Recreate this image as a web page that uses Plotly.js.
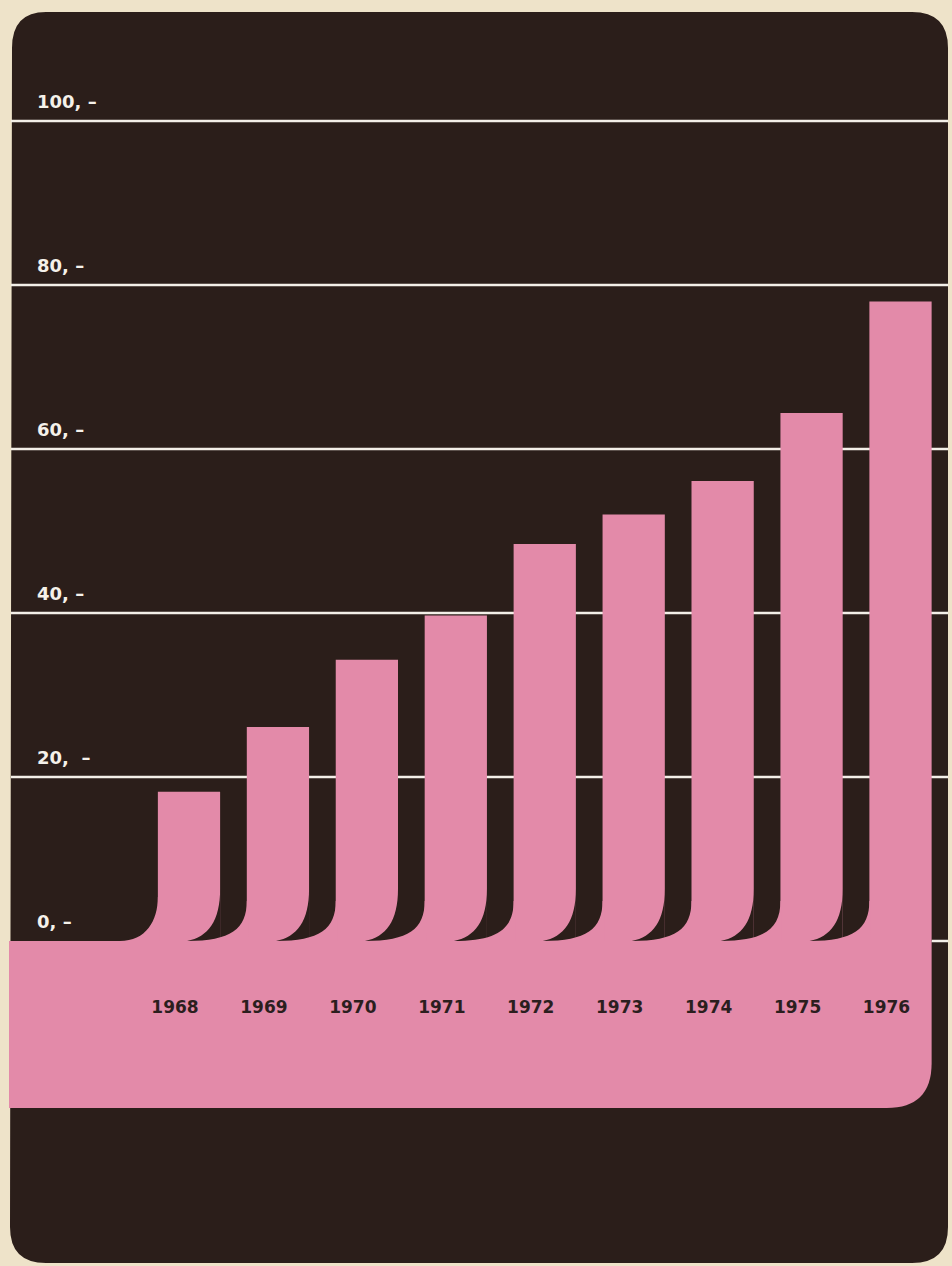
<!DOCTYPE html>
<html>
<head>
<meta charset="utf-8">
<script src="https://cdn.plot.ly/plotly-3.0.1.min.js"></script>
<style>
  html, body { margin: 0; padding: 0; background: #eee3c9; }
  #chart { width: 952px; height: 1266px; }
</style>
</head>
<body>
<div id="chart"></div>
<script>
// ---- data ----
const years = [1968, 1969, 1970, 1971, 1972, 1973, 1974, 1975, 1976];
const values = [18.2, 26.1, 34.3, 39.7, 48.4, 52.0, 56.1, 64.4, 78.0];
const yTickVals = [0, 20, 40, 60, 80, 100];
const yTickText = ['0, –', '20,\u00a0 –', '40, –', '60, –', '80, –', '100, –'];
const xTickText = years.map(String);

// ---- styling ----
const W = 952, H = 1266;
const CREAM = '#eee3c9';
const DARK = '#2b1e1a';
const PINK = '#e38aa9';
const LINE = '#f3efe8';
const barWidth = 0.7;

const xRange = [1965.875, 1976.579];
const yRange = [-39.634, 114.756];
const XS = (xRange[1] - xRange[0]) / W;   // data units per pixel (x)
const YS = (yRange[1] - yRange[0]) / H;   // data units per pixel (y)

const fx = px => px / W;
const fy = py => 1 - py / H;
const pxToDataX = px => xRange[0] + px * XS;

// point in data coords with pixel offsets (dx right, up = upward px) from a data anchor
const P = (xd, yd, dx, up) => `${(xd + dx * XS).toFixed(5)},${(yd + up * YS).toFixed(5)}`;

const shapes = [];

// dark rounded panel
(function () {
  const L = 10, T = 12, R = 948, B = 1263, r = 36;
  const path = `M ${fx(L + r)},${fy(T)} L ${fx(R - r)},${fy(T)} Q ${fx(R)},${fy(T)} ${fx(R)},${fy(T + r)} ` +
    `L ${fx(R)},${fy(B - r)} Q ${fx(R)},${fy(B)} ${fx(R - r)},${fy(B)} ` +
    `L ${fx(L + r)},${fy(B)} Q ${fx(L)},${fy(B)} ${fx(L)},${fy(B - r)} ` +
    `L ${fx(L + 2)},${fy(T + r)} Q ${fx(L + 2)},${fy(T)} ${fx(L + r)},${fy(T)} Z`;
  shapes.push({ type: 'path', xref: 'paper', yref: 'paper', layer: 'below', path: path,
    fillcolor: DARK, line: { width: 0 } });
})();

const lastRight = years[years.length - 1] + barWidth / 2;

// pink base band
(function () {
  const xl = pxToDataX(9);
  const xr = lastRight;
  const bottomUp = -167; // px below baseline
  const r = 45;
  const path = `M ${P(xl, 0, 0, 0)} L ${P(xr, 0, 0, 0)} L ${P(xr, 0, 0, bottomUp + r)} ` +
    `Q ${P(xr, 0, 0, bottomUp)} ${P(xr, 0, -r, bottomUp)} L ${P(xl, 0, 0, bottomUp)} Z`;
  shapes.push({ type: 'path', xref: 'x', yref: 'y', layer: 'below', path: path,
    fillcolor: PINK, line: { width: 0 } });
})();

// grid lines from tick values
yTickVals.forEach(v => {
  if (v === 0) {
    shapes.push({ type: 'line', xref: 'x', yref: 'y', layer: 'below',
      x0: lastRight, x1: pxToDataX(948), y0: v, y1: v, line: { color: LINE, width: 2.5 } });
  } else {
    shapes.push({ type: 'line', xref: 'paper', yref: 'y', layer: 'below',
      x0: fx(11), x1: fx(948), y0: v, y1: v, line: { color: LINE, width: 2.5 } });
  }
});

// curled bar bottoms: dark cut at bottom-right of each bar
years.forEach((yr, i) => {
  const right = yr + barWidth / 2;
  if (i < years.length - 1) {
    const path = `M ${P(right, 0, 0, 0)} L ${P(right, 0, 0, 52)} C ${P(right, 0, 0, 20)} ${P(right, 0, -12, 4)} ${P(right, 0, -33, 0)} Z`;
    shapes.push({ type: 'path', xref: 'x', yref: 'y', layer: 'above', path: path,
      fillcolor: DARK, line: { width: 0 } });
  }
});
// pink flare at bottom-left of each bar
years.forEach((yr, i) => {
  const left = yr - barWidth / 2;
  let path;
  if (i === 0) {
    path = `M ${P(left, 0, 1.5, 0)} L ${P(left, 0, 1.5, 44)} L ${P(left, 0, 0, 44)} C ${P(left, 0, 0, 20)} ${P(left, 0, -12, 0)} ${P(left, 0, -38, 0)} Z`;
  } else {
    const prevRight = years[i - 1] + barWidth / 2;
    const tipX = prevRight - 33 * XS;
    path = `M ${P(left, 0, 1.5, 0)} L ${P(left, 0, 1.5, 40)} L ${P(left, 0, 0, 40)} C ${P(left, 0, 0, 12)} ${P(left, 0, -16, 0)} ${P(tipX, 0, 0, 0)} Z`;
  }
  shapes.push({ type: 'path', xref: 'x', yref: 'y', layer: 'above', path: path,
    fillcolor: PINK, line: { width: 0 } });
});

const trace = {
  type: 'bar',
  x: years,
  y: values,
  width: barWidth,
  marker: { color: PINK, line: { width: 0 } },
  hoverinfo: 'x+y',
  showlegend: false
};

const layout = {
  width: W,
  height: H,
  autosize: false,
  margin: { l: 0, r: 0, t: 0, b: 0, pad: 0 },
  paper_bgcolor: CREAM,
  plot_bgcolor: 'rgba(0,0,0,0)',
  showlegend: false,
  xaxis: {
    type: 'linear',
    range: xRange,
    fixedrange: true,
    showgrid: false,
    zeroline: false,
    showline: false,
    ticks: '',
    tickmode: 'array',
    tickvals: years,
    ticktext: xTickText,
    anchor: 'free',
    position: (H - 995) / H,
    ticklabelshift: -14,
    tickfont: { family: 'DejaVu Sans', size: 17, color: '#2b1e1e', weight: 700 }
  },
  yaxis: {
    range: yRange,
    fixedrange: true,
    showgrid: false,
    zeroline: false,
    showline: false,
    ticks: '',
    tickmode: 'array',
    tickvals: yTickVals,
    ticktext: yTickText,
    ticklabelposition: 'inside',
    ticklabelstandoff: 34,
    ticklabelshift: -19,
    tickfont: { family: 'DejaVu Sans', size: 18, color: '#f5f1ea', weight: 700 }
  },
  shapes: shapes
};

Plotly.newPlot('chart', [trace], layout, { displayModeBar: false, staticPlot: true });
</script>
</body>
</html>
